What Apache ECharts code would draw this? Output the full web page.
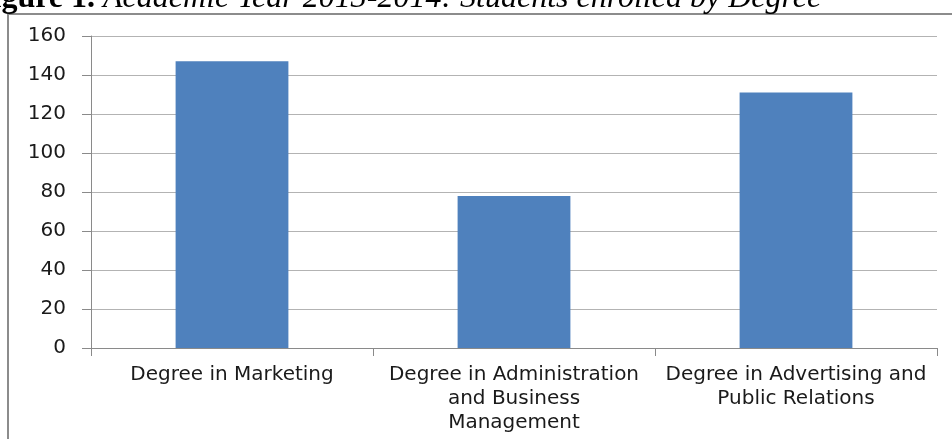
<!DOCTYPE html>
<html>
<head>
<meta charset="utf-8">
<script src="https://cdn.jsdelivr.net/npm/echarts@6/dist/echarts.min.js"></script>
<style>
  html, body { margin: 0; padding: 0; background: #fff; }
  #chart { width: 952px; height: 439px; }
</style>
</head>
<body>
<div id="chart"></div>
<script>
// Students enrolled per degree, academic year 2013-2014
const degrees = [
  'Degree in Marketing',
  'Degree in Administration and Business Management',
  'Degree in Advertising and Public Relations'
];
const degreeTickLabels = [
  'Degree in Marketing',
  'Degree in Administration\nand Business\nManagement',
  'Degree in Advertising and\nPublic Relations'
];
const studentsEnrolled = [147, 78, 131];
const yTicks = [0, 20, 40, 60, 80, 100, 120, 140, 160];

const chart = echarts.init(document.getElementById('chart'), null, { renderer: 'canvas' });

const axisGray = '#8a8a8a';
const gridGray = '#b3b3b3';

chart.setOption({
  animation: false,
  backgroundColor: '#ffffff',
  graphic: [
    // figure caption, partly above the page edge
    {
      type: 'text',
      left: -27,
      top: -17,
      z: 10,
      style: {
        text: '{b|Figure 1.}{i| Academic Year 2013-2014: Students enrolled by Degree}',
        rich: {
          b: { fontFamily: 'Liberation Serif', fontWeight: 'bold', fontSize: 32, fill: '#000' },
          i: { fontFamily: 'Liberation Serif', fontStyle: 'italic', fontSize: 32, fill: '#000' }
        }
      }
    },
    // chart frame
    {
      type: 'polyline',
      z: 5,
      shape: { points: [[8, 460], [8, 14], [980, 14]] },
      style: { stroke: '#8c8c8c', lineWidth: 2, fill: null }
    }
  ],
  grid: { left: 91, right: 15, top: 36, bottom: 91, containLabel: false },
  xAxis: {
    type: 'category',
    data: degrees,
    axisLine: { show: true, lineStyle: { color: axisGray, width: 1 } },
    axisTick: { show: true, length: 8, alignWithLabel: false, lineStyle: { color: axisGray } },
    axisLabel: {
      interval: 0,
      margin: 15,
      color: '#1a1a1a',
      fontFamily: 'DejaVu Sans',
      fontSize: 20,
      lineHeight: 24,
      formatter: (v, i) => degreeTickLabels[i]
    }
  },
  yAxis: {
    type: 'value',
    min: yTicks[0],
    max: yTicks[yTicks.length - 1],
    interval: 20,
    axisLine: { show: true, lineStyle: { color: axisGray, width: 1 } },
    axisTick: { show: true, length: 9, lineStyle: { color: axisGray } },
    splitLine: { show: true, lineStyle: { color: gridGray, width: 1 } },
    axisLabel: {
      margin: 25,
      color: '#1a1a1a',
      fontFamily: 'DejaVu Sans',
      fontSize: 20
    }
  },
  series: [{
    type: 'bar',
    data: studentsEnrolled,
    barWidth: '40%',
    itemStyle: { color: '#4f81bd' }
  }]
});
</script>
</body>
</html>
